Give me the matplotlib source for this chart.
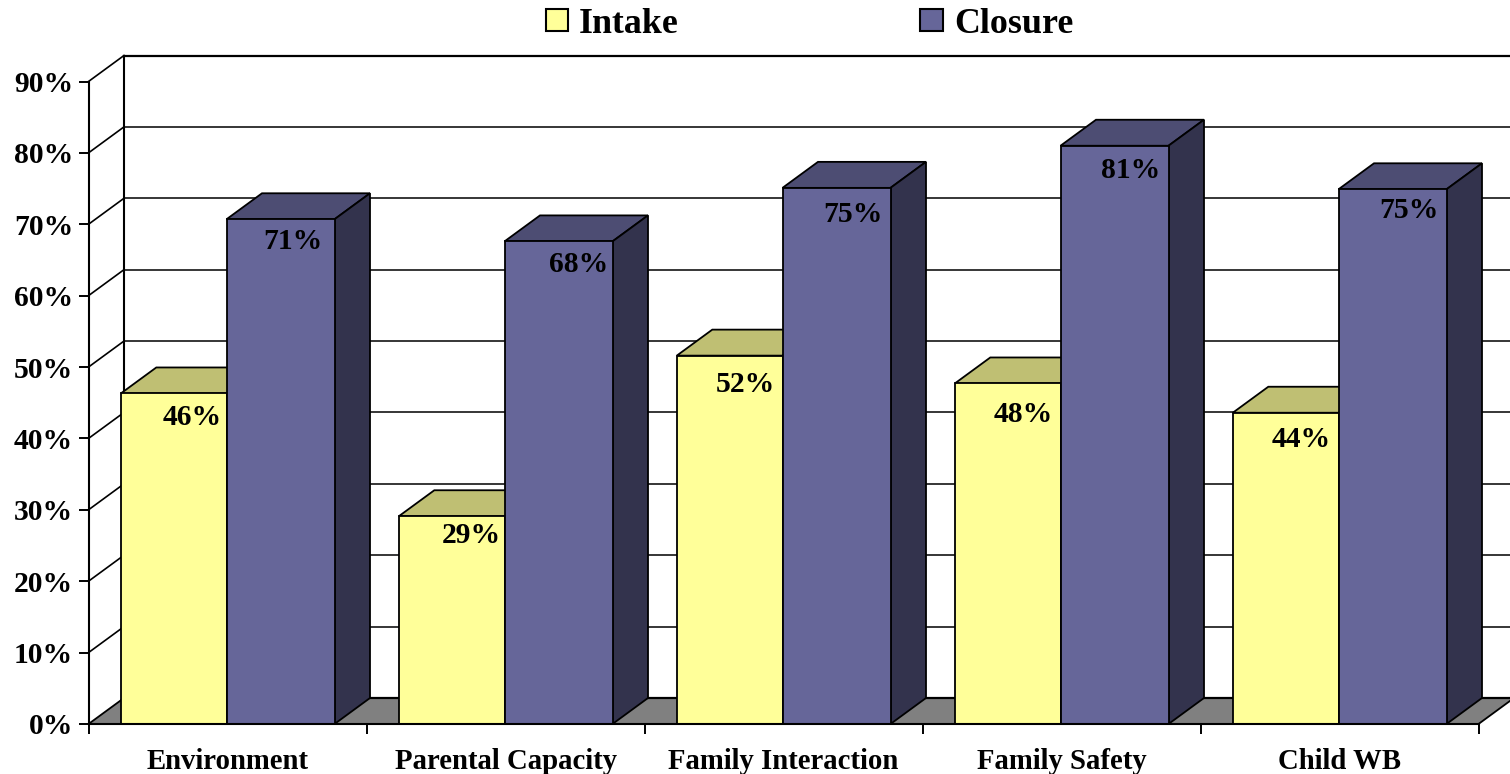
import matplotlib
matplotlib.use("Agg")
import matplotlib.pyplot as plt
from matplotlib.patches import Polygon, Patch

categories = ["Environment", "Parental Capacity", "Family Interaction", "Family Safety", "Child WB"]
intake = [46.3, 29.1, 51.6, 47.7, 43.6]
closure = [70.7, 67.6, 75.1, 81.0, 74.9]
tick_vals = [0, 10, 20, 30, 40, 50, 60, 70, 80, 90]

YEL, YEL_TOP = "#FFFF99", "#BFBF73"
PUR, PUR_TOP, PUR_SIDE = "#666699", "#4D4D73", "#33334D"
FLOOR = "#808080"
FONT = "Liberation Serif"
W, H = 1510, 774
X0, X1, Y0, Y1 = 88.5, 1478.5, 724.0, 81.5   # pixel frame of the front plane
CAT_PX = (X1 - X0) / len(categories)
PCT_PX = (Y0 - Y1) / 90

fig = plt.figure(figsize=(W / 100, H / 100), dpi=100, facecolor="white")
ax = fig.add_axes([X0 / W, (H - Y0) / H, (X1 - X0) / W, (Y0 - Y1) / H])
ax.set_xlim(0, len(categories))
ax.set_ylim(0, 90)
ax.patch.set_visible(False)
for s in ("top", "right"):
    ax.spines[s].set_visible(False)
for s in ("left", "bottom"):
    ax.spines[s].set_linewidth(1.5)
    ax.spines[s].set_zorder(6)

DX = 35.5 / CAT_PX          # depth in category units
DY = 26.0 / PCT_PX          # depth in percent units
LW = 1.3


def poly(pts, fc, z, lw=LW):
    ax.add_patch(Polygon(pts, closed=True, fc=fc, ec="black", lw=lw, zorder=z,
                         clip_on=False, joinstyle="miter"))


# wall and floor
right = len(categories) + 0.2
poly([(0, 0), (len(categories), 0), (len(categories) + DX, DY), (DX, DY)], FLOOR, 1)
for v in tick_vals:
    ax.plot([DX, right], [v + DY, v + DY], color="black",
            lw=1.6 if v in (0, 90) else 1.1, zorder=2 if v else 1.5, clip_on=False)
    if v:
        ax.plot([0, DX], [v, v + DY], color="black", lw=1.2, zorder=2, clip_on=False)
ax.plot([DX, DX], [DY, 90 + DY], color="black", lw=1.5, zorder=2, clip_on=False)

# bars
START = 32.3 / CAT_PX
W_I = 105.7 / CAT_PX
W_C = 108.0 / CAT_PX
for i, (a, b) in enumerate(zip(intake, closure)):
    x0 = i + START
    x1 = x0 + W_I
    x2 = x1 + W_C
    z = 3 + i * 0.01
    poly([(x0, a), (x1, a), (x1 + DX, a + DY), (x0 + DX, a + DY)], YEL_TOP, z)
    poly([(x1, 0), (x1 + DX, DY), (x1 + DX, a + DY), (x1, a)], YEL_TOP, z)
    poly([(x0, 0), (x1, 0), (x1, a), (x0, a)], YEL, z + 0.001)
    z2 = z + 0.002
    poly([(x1, b), (x2, b), (x2 + DX, b + DY), (x1 + DX, b + DY)], PUR_TOP, z2)
    poly([(x2, 0), (x2 + DX, DY), (x2 + DX, b + DY), (x2, b)], PUR_SIDE, z2)
    poly([(x1, 0), (x2, 0), (x2, b), (x1, b)], PUR, z2 + 0.001)

# value labels (nudges in pixels from the bar's top-right front corner)
nudge_i = [(-34, -24), (-33, -19), (-37, -29), (-37, -31), (-37, -27)]
nudge_c = [(-42, -22), (-34, -23), (-38, -27), (-38, -25), (-38, -21)]
for i, (a, b) in enumerate(zip(intake, closure)):
    x1 = i + START + W_I
    x2 = x1 + W_C
    for x, v, n in ((x1, a, nudge_i[i]), (x2, b, nudge_c[i])):
        ax.annotate(f"{round(v)}%", (x, v), xytext=(n[0] * 0.72, n[1] * 0.72),
                    textcoords="offset points", ha="center", va="center",
                    family=FONT, weight="bold", fontsize=21.3, zorder=5,
                    annotation_clip=False)

# axes ticks
ax.set_yticks(tick_vals, [f"{v}%" for v in tick_vals], family=FONT, weight="bold", fontsize=21.3)
ax.tick_params(axis="y", length=7, width=1.4, pad=4)
ax.set_xticks(range(len(categories) + 1), [""] * (len(categories) + 1))
ax.tick_params(axis="x", which="major", length=7, width=1.4)
ax.set_xticks([i + 0.5 for i in range(len(categories))], categories, minor=True,
              family=FONT, weight="bold", fontsize=20.7)
ax.tick_params(axis="x", which="minor", length=0, pad=17.5)

# legend
handles = [Patch(fc=YEL, ec="black", lw=1.5, label="Intake"),
           Patch(fc=PUR, ec="black", lw=1.5, label="Closure")]
fig.legend(handles=handles, loc="upper left", bbox_to_anchor=(545.5 / W, 1 - 8 / H),
           bbox_transform=fig.transFigure, ncol=2, frameon=False, borderpad=0,
           borderaxespad=0, handlelength=0.62, handleheight=0.56, handletextpad=0.31,
           columnspacing=6.75, prop={"family": FONT, "weight": "bold", "size": 25.8})

fig.savefig("out.png", dpi=100, facecolor="white")
